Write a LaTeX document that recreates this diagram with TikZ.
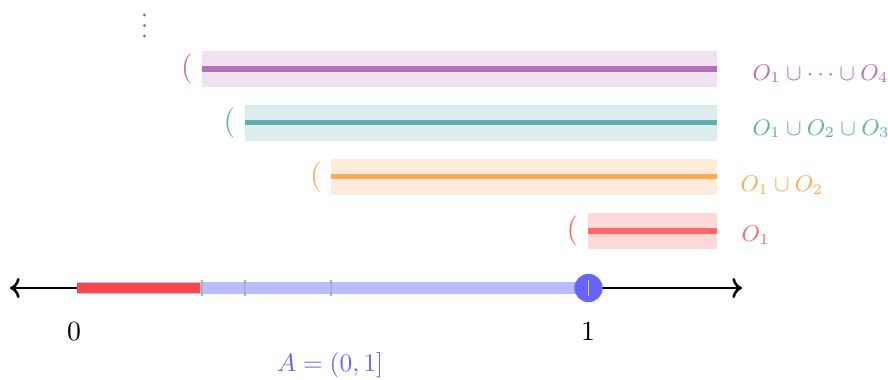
\documentclass[tikz,border=0pt]{standalone}
\usetikzlibrary{arrows.meta}
\definecolor{pline}{HTML}{B96EB9}
\definecolor{pband}{HTML}{F0E2F0}
\definecolor{tline}{HTML}{60B0B0}
\definecolor{tband}{HTML}{DCEDED}
\definecolor{oline}{HTML}{FFAA55}
\definecolor{oband}{HTML}{FDEBDB}
\definecolor{rline}{HTML}{FF6666}
\definecolor{rband}{HTML}{FFD8D8}
\definecolor{bdot}{HTML}{6666FF}
\definecolor{bband}{HTML}{BBBBFF}
\definecolor{rseg}{HTML}{FF4444}
\definecolor{tickc}{HTML}{B0B0B0}
\definecolor{tickin}{HTML}{D8D8B0}
\begin{document}
\begin{tikzpicture}[x=0.395pt,y=-0.395pt,
  setline/.style={line width=2.1pt},
  paren/.style={inner sep=0pt,font=\large},
  setlabel/.style={anchor=base west,inner sep=0pt,font=\small},
  ticky/.style={line width=0.45pt},
  vdot/.style={fill=black!50},
  numlabel/.style={anchor=base,inner sep=0pt,font=\fontsize{10.8}{13}\selectfont}]
\useasboundingbox (0,0) rectangle (888,379);
% dots
\foreach \yy in {15,25.5,36}
  \fill[vdot] (144.5,\yy) circle[radius=1.6];
% sets: O1..O4
\fill[pband] (202,51) rectangle (717,86.7);
\draw[setline,pline] (202,69) -- (717,69);
\node[paren,text=pline] (p4) at (187,69) {$($};
\node[setlabel,text=pline] (l4) at (752,80) {$O_1\cup\cdots\cup O_4$};
\fill[tband] (245,105) rectangle (717,140.7);
\draw[setline,tline] (245,122.7) -- (717,122.7);
\node[paren,text=tline] (p3) at (229.5,122.7) {$($};
\node[setlabel,text=tline] (l3) at (752,135) {$O_1\cup O_2\cup O_3$};
\fill[oband] (331,159) rectangle (717,194.7);
\draw[setline,oline] (331,176.8) -- (717,176.8);
\node[paren,text=oline] (p2) at (316,176.8) {$($};
\node[setlabel,text=oline] (l2) at (740,191.5) {$O_1\cup O_2$};
\fill[rband] (588,213) rectangle (717,248.7);
\draw[setline,rline] (588,231) -- (717,231);
\node[paren,text=rline] (p1) at (572.5,231) {$($};
\node[setlabel,text=rline] (l1) at (741,241.5) {$O_1$};
% axis
\coordinate (axl) at (10,288);
\coordinate (axr) at (742,288);
\coordinate (a0) at (77,288);
\coordinate (a1) at (588.5,288);
\draw[line width=1pt,<->] (axl) -- (axr);
\draw[line width=4.6pt,bband] (a0) -- (a1);
\draw[line width=3.6pt,rseg] (a0) -- (200,288);
\foreach \xx in {202,245,331}
  \draw[ticky,tickc] (\xx,280) -- (\xx,296);
\node[circle,fill=bdot,minimum size=28.3*0.395pt,inner sep=0pt] (one) at (a1) {};
\draw[ticky,tickin] (588.5,280) -- (588.5,296);
% labels
\node[numlabel] (n0) at (74,340.5) {$0$};
\node[numlabel] (n1) at (588,340.5) {$1$};
\node[anchor=base west,inner sep=0pt,text=bdot] (A) at (276.5,371.5) {$A=(0,1]$};
\end{tikzpicture}
\end{document}
